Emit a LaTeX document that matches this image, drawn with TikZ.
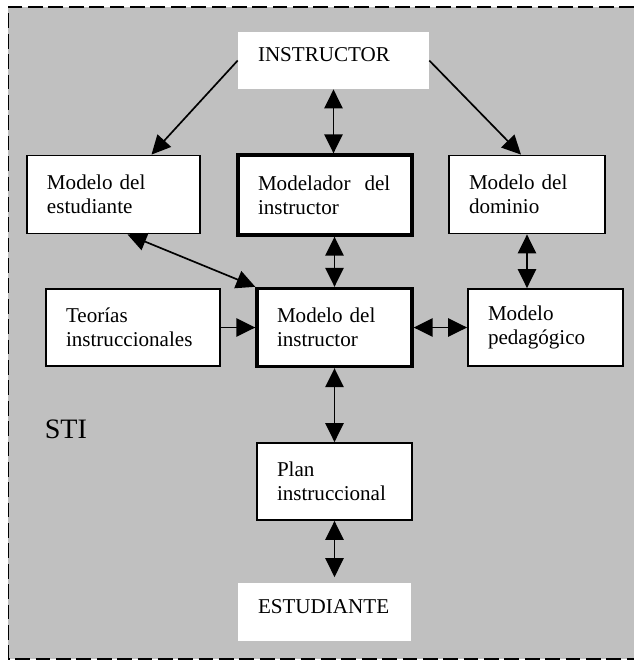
\documentclass[tikz,border=0pt]{standalone}
\usepackage{fontspec}
\setmainfont{Liberation Serif}
\usetikzlibrary{arrows.meta}
\definecolor{fondo}{RGB}{192,192,192}

\begin{document}
\begin{tikzpicture}
\tikzset{
    actor/.style={rectangle, fill=white, minimum width=#1, minimum height=1.43cm, align=left, text width=#1-1cm, inner xsep=0.5cm, text height=0.35cm, text depth=0.3cm},
    modulo/.style={rectangle, draw, fill=white, line width=1.3pt, minimum width=#1, minimum height=1.95cm, align=left, text width=#1-1cm, inner xsep=0.5cm},
    nucleo/.style={modulo=#1, line width=2.4pt},
    every node/.style={font=\fontsize{15}{17}\selectfont},
    edge/.style={-{Triangle[length=13.5pt, width=13pt]}, line width=1.2pt},
    biedge/.style={{Triangle[length=13.5pt, width=13pt]}-{Triangle[length=13.5pt, width=13pt]}, line width=1.2pt}
}
\useasboundingbox (0,0) rectangle (15.85,-16.5);

% Fondo del sistema
\fill[fondo] (0.2125,-0.175) rectangle (15.85,-16.475);
\draw[line width=1.2pt, dash pattern=on 10.5pt off 4pt] (15.85,-0.175) -- (0.2125,-0.175) -- (0.2125,-16.475) -- (15.85,-16.475);

% Bloques
\node[actor=4.775cm] (instr) at (8.3375,-1.5125) {INSTRUCTOR};
\node[modulo=4.325cm] (est) at (2.8375,-4.8625) {Modelo del\\estudiante};
\node[nucleo=4.35cm, minimum height=2cm] (mdlr) at (8.125,-4.875) {Modelador~~del\\instructor};
\node[modulo=3.9cm] (dom) at (13.175,-4.8625) {Modelo del\\dominio};
\node[modulo=4.35cm, minimum height=1.925cm] (teo) at (3.325,-8.1875) {Teorías\\instruccionales};
\node[nucleo=3.875cm] (minstr) at (8.3625,-8.1875) {Modelo del\\instructor};
\node[modulo=3.875cm, minimum height=1.925cm] (ped) at (13.6375,-8.1875) {Modelo\\pedagógico};
\node[modulo=3.875cm, minimum height=1.925cm] (plan) at (8.3625,-12.0375) {Plan\\instruccional};
\node[actor=4.325cm] (estd) at (8.1125,-15.3) {ESTUDIANTE};

% Etiqueta
\node[anchor=base west, inner sep=0pt, font=\fontsize{20}{24}\selectfont] (sti) at (1.1125,-10.95) {STI};

% Flechas
\draw[edge] (instr.west) -- ([xshift=0.95cm]est.north);
\draw[edge] (instr.east) -- ([xshift=-0.15cm]dom.north);
\draw[biedge] (instr.south) -- (instr.south |- mdlr.north);
\draw[biedge] ([xshift=0.35cm]est.south) -- (minstr.north west);
\draw[biedge] (mdlr.south -| minstr.north) -- (minstr.north);
\draw[biedge] (dom.south) -- (dom.south |- ped.north);
\draw[edge] (teo.east) -- (minstr.west);
\draw[biedge] (minstr.east) -- (ped.west);
\draw[biedge] (minstr.south) -- (plan.north);
\draw[biedge, shorten >=0.15cm] (plan.south) -- (plan.south |- estd.north);
\end{tikzpicture}
\end{document}
